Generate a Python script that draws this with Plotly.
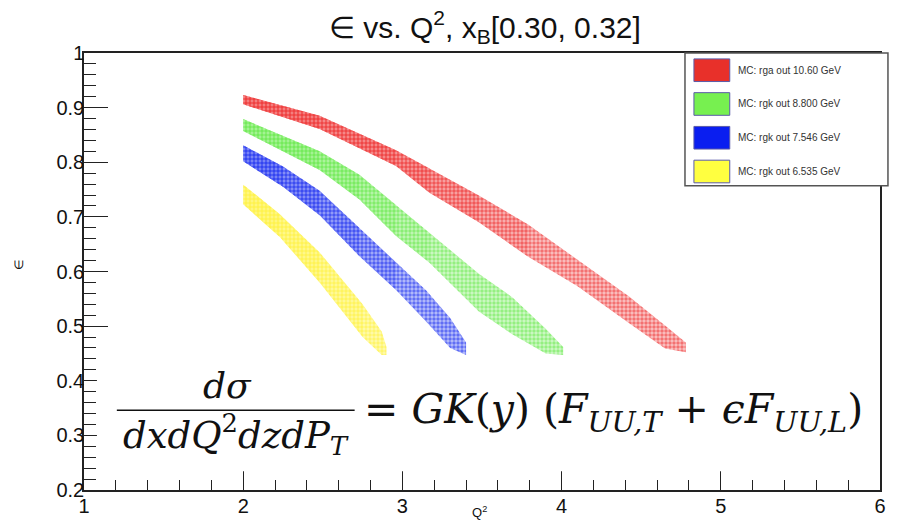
import plotly.graph_objects as go

# Q^2 grid and epsilon band edges (upper / lower) for each beam energy
red_q2 = [2.00, 2.48, 2.96, 3.17, 3.48, 3.79, 4.10, 4.42, 4.65, 4.78]
red_hi = [0.923, 0.885, 0.822, 0.789, 0.739, 0.686, 0.622, 0.555, 0.501, 0.470]
red_lo = [0.906, 0.861, 0.793, 0.744, 0.690, 0.627, 0.573, 0.506, 0.459, 0.452]

green_q2 = [2.00, 2.48, 2.73, 2.96, 3.17, 3.48, 3.69, 3.90, 4.01]
green_hi = [0.879, 0.820, 0.777, 0.722, 0.670, 0.596, 0.553, 0.495, 0.462]
green_lo = [0.857, 0.786, 0.732, 0.665, 0.616, 0.527, 0.485, 0.450, 0.447]

blue_q2 = [2.00, 2.25, 2.48, 2.73, 2.96, 3.15, 3.30, 3.40]
blue_hi = [0.831, 0.792, 0.748, 0.680, 0.616, 0.565, 0.515, 0.470]
blue_lo = [0.802, 0.755, 0.703, 0.628, 0.566, 0.508, 0.460, 0.447]

yellow_q2 = [2.00, 2.23, 2.48, 2.75, 2.87, 2.90]
yellow_hi = [0.759, 0.705, 0.635, 0.540, 0.490, 0.462]
yellow_lo = [0.723, 0.663, 0.580, 0.480, 0.447, 0.447]

labels = ["MC: rga out 10.60 GeV", "MC: rgk out 8.800 GeV",
          "MC: rgk out 7.546 GeV", "MC: rgk out 6.535 GeV"]

x_ticks = [1, 2, 3, 4, 5, 6]
y_ticks = [0.2, 0.3, 0.4, 0.5, 0.6, 0.7, 0.8, 0.9, 1.0]
y_ticktext = ["0.2", "0.3", "0.4", "0.5", "0.6", "0.7", "0.8", "0.9", "1"]

# (q2, upper, lower, dot colour, haze colour, swatch colour, points in dense low-Q^2 part)
series = [
    (red_q2, red_hi, red_lo, "rgba(236,30,30,1)", "rgba(240,60,60,0.30)", "#e8302a", 6),
    (green_q2, green_hi, green_lo, "rgba(90,232,60,1)", "rgba(110,235,80,0.32)", "#77f050", 5),
    (blue_q2, blue_hi, blue_lo, "rgba(10,30,240,1)", "rgba(40,60,240,0.32)", "#0a1ef0", 5),
    (yellow_q2, yellow_hi, yellow_lo, "rgba(255,240,40,1)", "rgba(255,245,70,0.45)", "#ffff40", 4),
]

W, H = 898, 529
ML, MR, MT, MB = 84, 14, 53, 32
PW, PH = W - ML - MR, H - MT - MB


def px(x):
    return (x - ML) / PW


def py(y):
    return (H - MB - y) / PH


def band_outline(q2, hi, lo):
    return list(q2) + list(q2[::-1]), list(hi) + list(lo[::-1])


fig = go.Figure()

for (q2, hi, lo, fg, bg, sw, n_dense), name in zip(series, labels):
    xs, ys = band_outline(q2, hi, lo)
    fig.add_trace(go.Scatter(
        x=xs, y=ys, mode="lines", fill="toself", name=name,
        line=dict(width=0, color="rgba(0,0,0,0)"),
        fillcolor=bg,
        fillpattern=dict(shape=".", size=4, solidity=0.6, fgcolor=fg, bgcolor=bg),
        hoverinfo="skip", showlegend=False,
    ))
    # population thins out towards high Q^2: stack translucent layers
    for k in range(2, n_dense + 1):
        xs, ys = band_outline(q2[:k], hi[:k], lo[:k])
        fig.add_trace(go.Scatter(
            x=xs, y=ys, mode="lines", fill="toself", name=name,
            line=dict(width=0, color="rgba(0,0,0,0)"),
            fillcolor=bg, opacity=0.28,
            fillpattern=dict(shape=".", size=4, solidity=0.7, fgcolor=fg, bgcolor=bg),
            hoverinfo="skip", showlegend=False,
        ))

shapes = []
annotations = []

# white panel holding the cross-section formula
shapes.append(dict(type="rect", xref="paper", yref="paper",
                   x0=px(97), x1=px(872), y0=py(478), y1=py(362),
                   fillcolor="white", line=dict(width=0), layer="above"))
shapes.append(dict(type="line", xref="paper", yref="paper",
                   x0=px(117), x1=px(356), y0=py(416), y1=py(416),
                   line=dict(color="#111", width=1.6), layer="above"))

serif = "DejaVu Serif"
annotations.append(dict(xref="paper", yref="paper", x=px(228), y=py(391),
                        text="<i>dσ</i>", showarrow=False,
                        font=dict(family=serif, size=36, color="#111"),
                        xanchor="center", yanchor="middle"))
annotations.append(dict(xref="paper", yref="paper", x=px(237), y=py(441),
                        text="<i>dxdQ</i><sup>2</sup><i>dzdP</i><sub><i>T</i></sub>",
                        showarrow=False,
                        font=dict(family=serif, size=37, color="#111"),
                        xanchor="center", yanchor="middle"))
annotations.append(dict(xref="paper", yref="paper", x=px(363), y=py(418),
                        text="= <i>GK</i>(<i>y</i>) (<i>F</i><sub><i>UU,T</i></sub> + <i>ϵF</i><sub><i>UU,L</i></sub>)",
                        showarrow=False,
                        font=dict(family=serif, size=41, color="#111"),
                        xanchor="left", yanchor="middle"))

# legend box
shapes.append(dict(type="rect", xref="paper", yref="paper",
                   x0=px(688), x1=px(892), y0=py(188), y1=py(53),
                   fillcolor="white", line=dict(color="#555", width=1.5), layer="above"))
for i, (s, name) in enumerate(zip(series, labels)):
    top = 59 + i * 34.3
    shapes.append(dict(type="rect", xref="paper", yref="paper",
                       x0=px(697), x1=px(733), y0=py(top + 23), y1=py(top),
                       fillcolor=s[5], line=dict(color="#5a5aa8", width=1), layer="above"))
    annotations.append(dict(xref="paper", yref="paper", x=px(739), y=py(top + 11.5),
                            text=name, showarrow=False,
                            font=dict(family="Liberation Sans", size=10, color="#333"),
                            xanchor="left", yanchor="middle"))

# title and axis titles
annotations.append(dict(xref="paper", yref="paper", x=px(487), y=py(27),
                        text="∈ vs. Q<sup>2</sup>, x<sub>B</sub>[0.30, 0.32]",
                        showarrow=False,
                        font=dict(family="Liberation Sans", size=30, color="#111"),
                        xanchor="center", yanchor="middle"))
annotations.append(dict(xref="paper", yref="paper", x=px(481), y=py(519),
                        text="Q<sup>2</sup>", showarrow=False,
                        font=dict(family="Liberation Sans", size=13, color="#111"),
                        xanchor="center", yanchor="middle"))
annotations.append(dict(xref="paper", yref="paper", x=px(18), y=py(268),
                        text="∈", showarrow=False, textangle=-90,
                        font=dict(family="Liberation Sans", size=12, color="#111"),
                        xanchor="center", yanchor="middle"))

axis_common = dict(showgrid=False, zeroline=False, showline=True, mirror=True,
                   linecolor="#222", linewidth=1.5, ticks="inside",
                   tickcolor="#222", tickwidth=1,
                   tickfont=dict(family="Liberation Sans", size=20, color="#111"))

fig.update_layout(
    width=W, height=H,
    margin=dict(l=ML, r=MR, t=MT, b=MB),
    paper_bgcolor="white", plot_bgcolor="white",
    showlegend=False,
    shapes=shapes, annotations=annotations,
    xaxis=dict(range=[1, 6], tickvals=x_ticks, ticktext=[str(v) for v in x_ticks],
               ticklen=20, ticklabelstandoff=-3,
               minor=dict(ticks="inside", ticklen=10, dtick=0.2,
                          tickcolor="#222", tickwidth=1),
               **axis_common),
    yaxis=dict(range=[0.2, 1.0], tickvals=y_ticks, ticktext=y_ticktext,
               ticklen=24, ticklabelstandoff=-6,
               minor=dict(ticks="inside", ticklen=12, dtick=0.02,
                          tickcolor="#222", tickwidth=1),
               **axis_common),
)

fig.write_html("out.html")
